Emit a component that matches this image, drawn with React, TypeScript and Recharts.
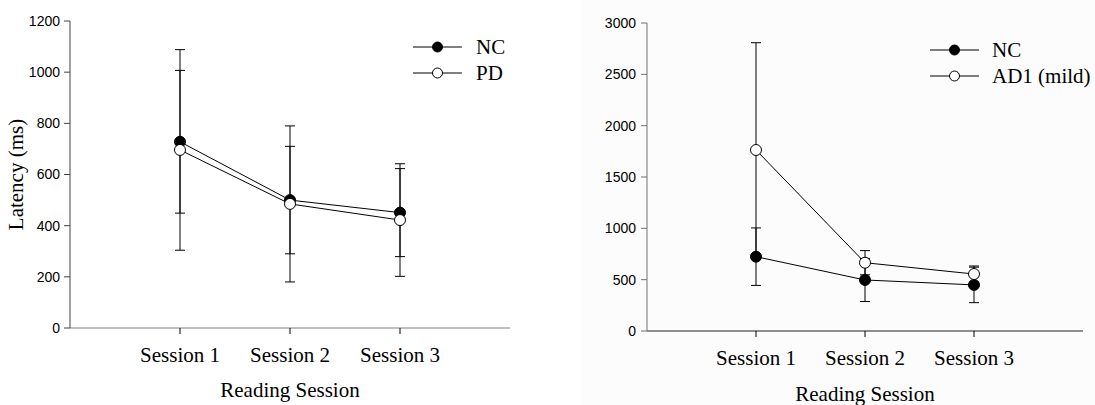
import React from 'react';
import { LineChart, Line, XAxis, YAxis, ErrorBar, Legend } from 'recharts';

const sessions = ['Session 1', 'Session 2', 'Session 3'];

const ncLeft = [728, 500, 451];
const ncLeftErr = [279, 210, 172];
const pdLeft = [696, 485, 422];
const pdLeftErr = [392, 305, 220];

const ncRight = [724, 497, 449];
const ncRightErr = [280, 210, 173];
const adRight = [1763, 665, 555];
const adRightErr = [1045, 118, 78];

const leftTicks = [0, 200, 400, 600, 800, 1000, 1200];
const rightTicks = [0, 500, 1000, 1500, 2000, 2500, 3000];
const xPositions = [1, 2, 3];

const leftSeriesNames = ['NC', 'PD'];
const rightSeriesNames = ['NC', 'AD1 (mild)'];

const leftData = sessions.map((s, i) => ({
  x: xPositions[i],
  nc: ncLeft[i],
  ncErr: ncLeftErr[i],
  pd: pdLeft[i],
  pdErr: pdLeftErr[i],
}));

const rightData = sessions.map((s, i) => ({
  x: xPositions[i],
  nc: ncRight[i],
  ncErr: ncRightErr[i],
  ad: adRight[i],
  adErr: adRightErr[i],
}));

const SERIF = '"Liberation Serif", "Times New Roman", serif';
const SANS = '"Liberation Sans", Arial, sans-serif';

const fillByName: Record<string, string> = {
  NC: '#000',
  PD: '#fff',
  'AD1 (mild)': '#fff',
};

function makeLegend(order: string[], lineX1: number, lineX2: number, textX: number, rowYs: number[], w: number) {
  return (props: any) => {
    const payload = [...(props.payload || [])].sort(
      (a: any, b: any) => order.indexOf(a.value) - order.indexOf(b.value)
    );
    return (
      <svg width={w} height={70} style={{ display: 'block' }}>
        {payload.map((entry: any, i: number) => {
          const y = rowYs[i];
          const cx = (lineX1 + lineX2) / 2;
          return (
            <g key={i}>
              <line x1={lineX1} x2={lineX2} y1={y} y2={y} stroke="#000" strokeWidth={1} />
              <circle cx={cx} cy={y} r={5} fill={fillByName[entry.value] || '#fff'} stroke="#000" strokeWidth={1} />
              <text x={textX} y={y} dominantBaseline="central" fontFamily={SERIF} fontSize={21} fill="#000">
                {entry.value}
              </text>
            </g>
          );
        })}
      </svg>
    );
  };
}

const xLabel = (baselineY: number) => (props: any) => {
  const vb = props.viewBox || {};
  return (
    <text x={vb.x + vb.width / 2} y={baselineY} textAnchor="middle" fontFamily={SERIF} fontSize={21} fill="#000">
      Reading Session
    </text>
  );
};

const yLabel = (props: any) => {
  const vb = props.viewBox || {};
  const cy = vb.y + vb.height / 2;
  return (
    <text
      x={16}
      y={cy}
      transform={`rotate(-90, 16, ${cy})`}
      textAnchor="middle"
      dominantBaseline="central"
      fontFamily={SERIF}
      fontSize={21}
      fill="#000"
    >
      Latency (ms)
    </text>
  );
};

const fmtSession = (v: number) => sessions[xPositions.indexOf(v)] ?? '';

export default function App() {
  return (
    <div style={{ position: 'absolute', left: 0, top: 0, width: 1095, height: 405, background: '#fff', overflow: 'hidden' }}>
      <div style={{ position: 'absolute', left: 582, top: 0, width: 513, height: 405, background: '#fcfcfc' }} />
      <div style={{ position: 'absolute', left: 0, top: 0 }}>
        <LineChart width={540} height={405} data={leftData} margin={{ top: 21, right: 30, bottom: 0, left: 0 }}>
          <XAxis
            dataKey="x"
            type="number"
            domain={[0, 4]}
            ticks={xPositions}
            interval={0}
            tickFormatter={fmtSession}
            height={77}
            tickSize={6}
            tickMargin={13}
            stroke="#808080"
            tick={{ fill: '#000', fontFamily: SERIF, fontSize: 21 }}
            tickLine={{ stroke: '#000' }}
            label={xLabel(397)}
          />
          <YAxis
            type="number"
            domain={[0, 1200]}
            ticks={leftTicks}
            width={70}
            tickSize={6}
            tickMargin={4}
            stroke="#404040"
            tick={{ fill: '#000', fontFamily: SANS, fontSize: 14 }}
            label={yLabel}
          />
          <Legend
            layout="horizontal"
            verticalAlign="middle"
            align="center"
            content={makeLegend(leftSeriesNames, 8, 57, 71, [17, 43], 135)}
            wrapperStyle={{ position: 'absolute', left: 405, top: 30, width: 135, height: 70 }}
          />
          <Line
            name={leftSeriesNames[0]}
            dataKey="nc"
            stroke="#000"
            strokeWidth={1}
            isAnimationActive={false}
            dot={{ r: 5.5, fill: '#000', stroke: '#000', strokeWidth: 1 }}
            activeDot={false}
          >
            <ErrorBar dataKey="ncErr" direction="y" width={5} stroke="#000" strokeWidth={1} isAnimationActive={false} />
          </Line>
          <Line
            name={leftSeriesNames[1]}
            dataKey="pd"
            stroke="#000"
            strokeWidth={1}
            isAnimationActive={false}
            dot={{ r: 5.5, fill: '#fff', stroke: '#000', strokeWidth: 1 }}
            activeDot={false}
          >
            <ErrorBar dataKey="pdErr" direction="y" width={5} stroke="#000" strokeWidth={1} isAnimationActive={false} />
          </Line>
        </LineChart>
      </div>
      <div style={{ position: 'absolute', left: 577, top: 0 }}>
        <LineChart width={518} height={405} data={rightData} margin={{ top: 23, right: 12, bottom: 0, left: 0 }}>
          <XAxis
            dataKey="x"
            type="number"
            domain={[0, 4]}
            ticks={xPositions}
            interval={0}
            tickFormatter={fmtSession}
            height={74}
            tickSize={6}
            tickMargin={13}
            stroke="#202020"
            tick={{ fill: '#000', fontFamily: SERIF, fontSize: 21 }}
            tickLine={{ stroke: '#000' }}
            label={xLabel(401)}
          />
          <YAxis
            type="number"
            domain={[0, 3000]}
            ticks={rightTicks}
            width={70}
            tickSize={6}
            tickMargin={5}
            stroke="#707070"
            tick={{ fill: '#000', fontFamily: SANS, fontSize: 14 }}
          />
          <Legend
            layout="horizontal"
            verticalAlign="middle"
            align="center"
            content={makeLegend(rightSeriesNames, 10, 59, 72, [20, 46], 175)}
            wrapperStyle={{ position: 'absolute', left: 343, top: 30, width: 175, height: 70 }}
          />
          <Line
            name={rightSeriesNames[0]}
            dataKey="nc"
            stroke="#000"
            strokeWidth={1}
            isAnimationActive={false}
            dot={{ r: 5.5, fill: '#000', stroke: '#000', strokeWidth: 1 }}
            activeDot={false}
          >
            <ErrorBar dataKey="ncErr" direction="y" width={5} stroke="#000" strokeWidth={1} isAnimationActive={false} />
          </Line>
          <Line
            name={rightSeriesNames[1]}
            dataKey="ad"
            stroke="#000"
            strokeWidth={1}
            isAnimationActive={false}
            dot={{ r: 5.5, fill: '#fff', stroke: '#000', strokeWidth: 1 }}
            activeDot={false}
          >
            <ErrorBar dataKey="adErr" direction="y" width={5} stroke="#000" strokeWidth={1} isAnimationActive={false} />
          </Line>
        </LineChart>
      </div>
    </div>
  );
}
